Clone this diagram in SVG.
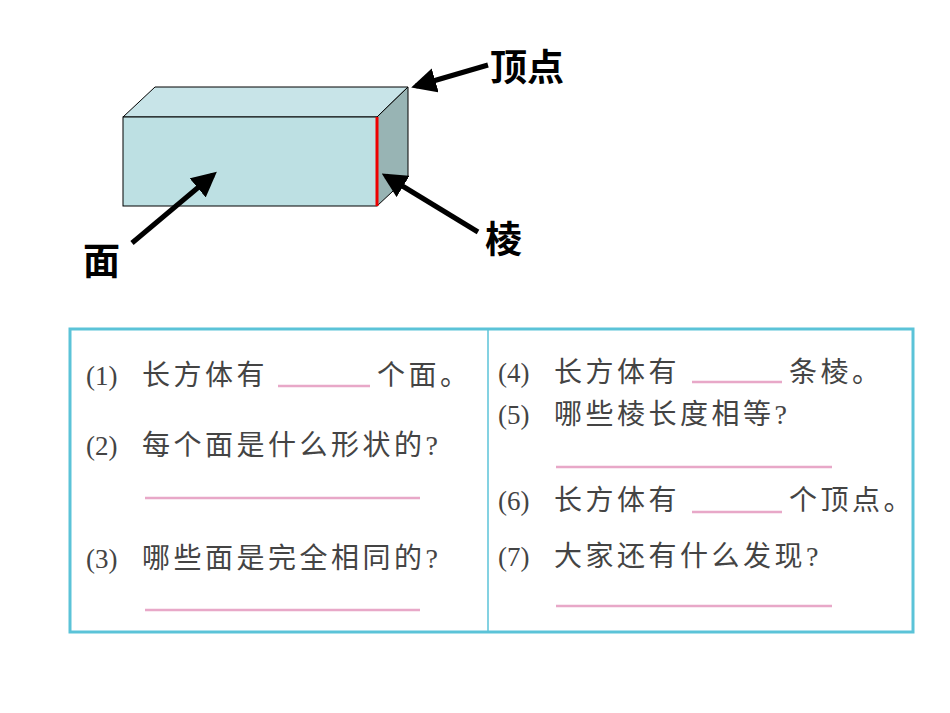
<svg xmlns="http://www.w3.org/2000/svg" width="950" height="713" viewBox="0 0 950 713">
<style>
.lbl{font-family:"Noto Sans CJK SC",sans-serif;font-weight:bold;font-size:37px;fill:#000}
.q{font-family:"Liberation Serif","Noto Sans CJK SC",serif;font-size:28px;fill:#444;letter-spacing:3.5px}
.n{font-family:"Liberation Serif",serif;font-size:27px;fill:#444}
.bl{stroke:#e8a8c8;stroke-width:2.5}
.ar{stroke:#000;stroke-width:5;marker-end:url(#ah)}
</style>
<defs><marker id="ah" markerWidth="5" markerHeight="5" refX="4" refY="2.5" orient="auto"><path d="M0,0L5,2.5L0,5z" fill="#000"/></marker></defs>
<rect width="950" height="713" fill="#fff"/>
<g id="box" stroke="#000" stroke-width="1">
<polygon points="123,117 155,87 408,87 377,117" fill="#c8e4e8"/>
<polygon points="377,117 408,87 408,177 377,206" fill="#98b4b4"/>
<rect x="123" y="117" width="254" height="89" fill="#bde0e3"/>
<line x1="377" y1="117" x2="377" y2="206" stroke="#e00" stroke-width="3"/>
</g>
<g id="connectors">
<line class="ar" x1="488" y1="65" x2="416" y2="86"/>
<line class="ar" x1="478" y1="232" x2="386" y2="176"/>
<line class="ar" x1="132" y1="243" x2="213" y2="175"/>
</g>
<g id="labels">
<text class="lbl" x="490" y="81">顶点</text>
<text class="lbl" x="485" y="253">棱</text>
<text class="lbl" x="83" y="275">面</text>
</g>
<g id="table">
<rect x="70" y="329" width="843" height="303" fill="#fff" stroke="#5bc3d8" stroke-width="3"/>
<line x1="488" y1="329" x2="488" y2="632" stroke="#5bc3d8" stroke-width="1.5"/>
<text class="n" x="86" y="385">(1)</text><text class="q" x="142" y="385">长方体有</text><line class="bl" x1="278" y1="386" x2="370" y2="386"/><text class="q" x="377" y="385">个面。</text>
<text class="n" x="86" y="455">(2)</text><text class="q" x="142" y="455">每个面是什么形状的?</text><line class="bl" x1="145" y1="498" x2="420" y2="498"/>
<text class="n" x="86" y="568">(3)</text><text class="q" x="142" y="568">哪些面是完全相同的?</text><line class="bl" x1="145" y1="610" x2="420" y2="610"/>
<text class="n" x="498" y="382">(4)</text><text class="q" x="554" y="382">长方体有</text><line class="bl" x1="692" y1="382" x2="782" y2="382"/><text class="q" x="789" y="382">条棱。</text>
<text class="n" x="498" y="424">(5)</text><text class="q" x="554" y="424">哪些棱长度相等?</text><line class="bl" x1="556" y1="467" x2="832" y2="467"/>
<text class="n" x="498" y="510">(6)</text><text class="q" x="554" y="510">长方体有</text><line class="bl" x1="692" y1="512" x2="782" y2="512"/><text class="q" x="789" y="510">个顶点。</text>
<text class="n" x="498" y="566">(7)</text><text class="q" x="554" y="566">大家还有什么发现?</text><line class="bl" x1="556" y1="606" x2="832" y2="606"/>
</g>
</svg>
